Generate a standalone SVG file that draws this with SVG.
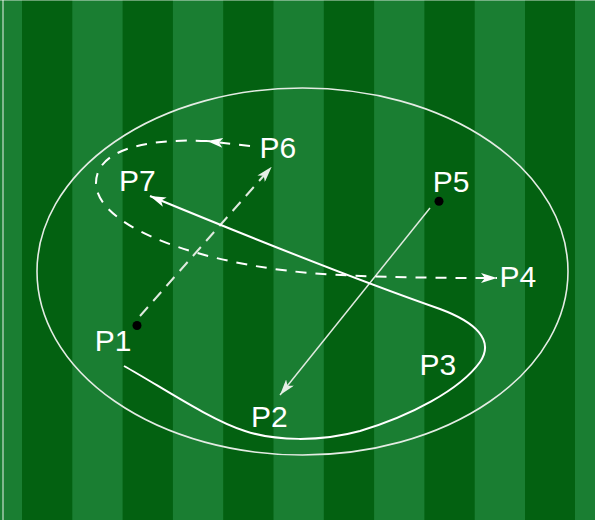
<svg xmlns="http://www.w3.org/2000/svg" width="595" height="520" viewBox="0 0 595 520">
  <style>
    .lt { fill: #1a7e32; }
    .dk { fill: #036111; }
    .lbl { font-family: "Liberation Sans", Arial, sans-serif; font-size: 30px; fill: #ffffff; }
    .dot { fill: #000000; }
    .solid { fill: none; stroke: #ffffff; stroke-width: 2; }
    .thin { fill: none; stroke: #dfeadf; stroke-width: 1.5; }
    .dash { fill: none; stroke: #ffffff; stroke-width: 2; stroke-dasharray: 11 9; }
    .dashlt { fill: none; stroke: #dfeadf; stroke-width: 2; stroke-dasharray: 12 8; }
  </style>
  <defs>
    <marker id="arr" viewBox="0 0 16 10" markerWidth="16" markerHeight="10" markerUnits="userSpaceOnUse" refX="16" refY="5" orient="auto">
      <path d="M0,0 L16,5 L0,10 L4,5 z" fill="#ffffff"/>
    </marker>
    <marker id="arrlt" viewBox="0 0 16 10" markerWidth="16" markerHeight="10" markerUnits="userSpaceOnUse" refX="16" refY="5" orient="auto">
      <path d="M0,0 L16,5 L0,10 L4,5 z" fill="#e6efe6"/>
    </marker>
  </defs>

  <g id="field">
    <rect x="0" y="0" width="595" height="520" class="lt"/>
    <rect x="22" y="0" width="50.3" height="520" class="dk"/>
    <rect x="122.6" y="0" width="50.3" height="520" class="dk"/>
    <rect x="223.2" y="0" width="50.3" height="520" class="dk"/>
    <rect x="323.8" y="0" width="50.3" height="520" class="dk"/>
    <rect x="424.4" y="0" width="50.3" height="520" class="dk"/>
    <rect x="525" y="0" width="50" height="520" class="dk"/>
    <line x1="3" y1="0" x2="3" y2="520" stroke="#ffffff" stroke-opacity="0.6" stroke-width="1.5"/>
    <line x1="0" y1="0.5" x2="595" y2="0.5" stroke="#ffffff" stroke-opacity="0.4" stroke-width="1"/>
    <ellipse cx="302.5" cy="271.5" rx="265.5" ry="183.5" fill="none" stroke="#e4ece4" stroke-width="1.6"/>
  </g>

  <g id="connectors">
    <path class="thin" d="M430,208 L280,395" marker-end="url(#arrlt)"/>
    <path class="dashlt" d="M140,316 L271.7,166.7" marker-end="url(#arrlt)"/>
    <path class="dash" d="M250,146 L207,141" marker-end="url(#arr)"/>
    <path class="dash" d="M207,141 C140,138 96,152 96,183 C96,222 180,258 290,271 C340,277 420,278 497,278" marker-end="url(#arr)"/>
    <path class="solid" d="M124,366 C160,386 210,420 245,431 C275,441 320,442 360,431 C410,416 460,390 480,362 C495,340 475,322 440,309 C400,295 300,258 150,196" marker-end="url(#arr)"/>
  </g>

  <g id="P1">
    <circle class="dot" cx="137" cy="325.5" r="4.5"/>
    <text class="lbl" x="94.7" y="351">P1</text>
  </g>
  <g id="P2">
    <text class="lbl" x="251" y="427">P2</text>
  </g>
  <g id="P3">
    <text class="lbl" x="419.5" y="375">P3</text>
  </g>
  <g id="P4">
    <text class="lbl" x="499.5" y="287">P4</text>
  </g>
  <g id="P5">
    <circle class="dot" cx="439" cy="201.3" r="4.5"/>
    <text class="lbl" x="432.7" y="192">P5</text>
  </g>
  <g id="P6">
    <text class="lbl" x="259.4" y="158">P6</text>
  </g>
  <g id="P7">
    <text class="lbl" x="119" y="191">P7</text>
  </g>
</svg>
